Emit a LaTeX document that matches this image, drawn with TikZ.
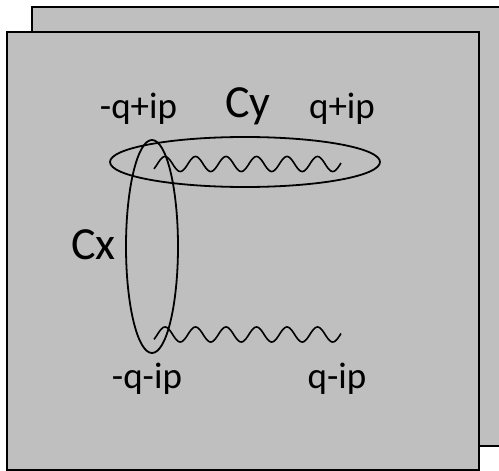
\documentclass[tikz,border=0pt]{standalone}
\usepackage{fontspec}
\setmainfont{Carlito}
\usetikzlibrary{shapes.geometric}
\definecolor{panelgray}{RGB}{191,191,191}
\tikzset{
  panel/.style={draw=black, fill=panelgray, line width=2pt},
  loop/.style={draw=black, line width=1.8pt},
  wave/.style={draw=black, line width=1.6pt},
  lbl/.style={anchor=base, inner sep=0pt, font=\fontsize{37}{40}\selectfont},
  biglbl/.style={anchor=base, inner sep=0pt, font=\fontsize{46}{50}\selectfont}
}
\begin{document}
\begin{tikzpicture}[x=1pt,y=-1pt]
\useasboundingbox (0,0) rectangle (499,471);
\clip (0,0) rectangle (499,471);
% panels
\path[panel] (32,7) rectangle (530,446);
\path[panel] (7,32) rectangle (479,469.5);
% waves
\draw[wave] plot[domain=154:341, samples=200, smooth] (\x, {164 - 7.5*cos(11.8033*(\x-165))});
\draw[wave] plot[domain=154:341, samples=200, smooth] (\x, {334.5 - 7.5*cos(11.8033*(\x-165))});
% contours
\node[loop, ellipse, minimum width=270pt, minimum height=50pt, inner sep=0pt] (cy) at (245,162) {};
\node[loop, ellipse, minimum width=52pt, minimum height=213pt, inner sep=0pt] (cx) at (152,246.5) {};
% labels
\node[lbl] (lmqp) at (138.5,118) {-q+ip};
\node[biglbl] (lcy) at (248,117) {Cy};
\node[lbl] (lqp) at (342,118) {q+ip};
\node[biglbl] (lcx) at (93.5,259) {Cx};
\node[lbl] (lmqm) at (147,388) {-q-ip};
\node[lbl] (lqm) at (337,388) {q-ip};
\end{tikzpicture}
\end{document}
